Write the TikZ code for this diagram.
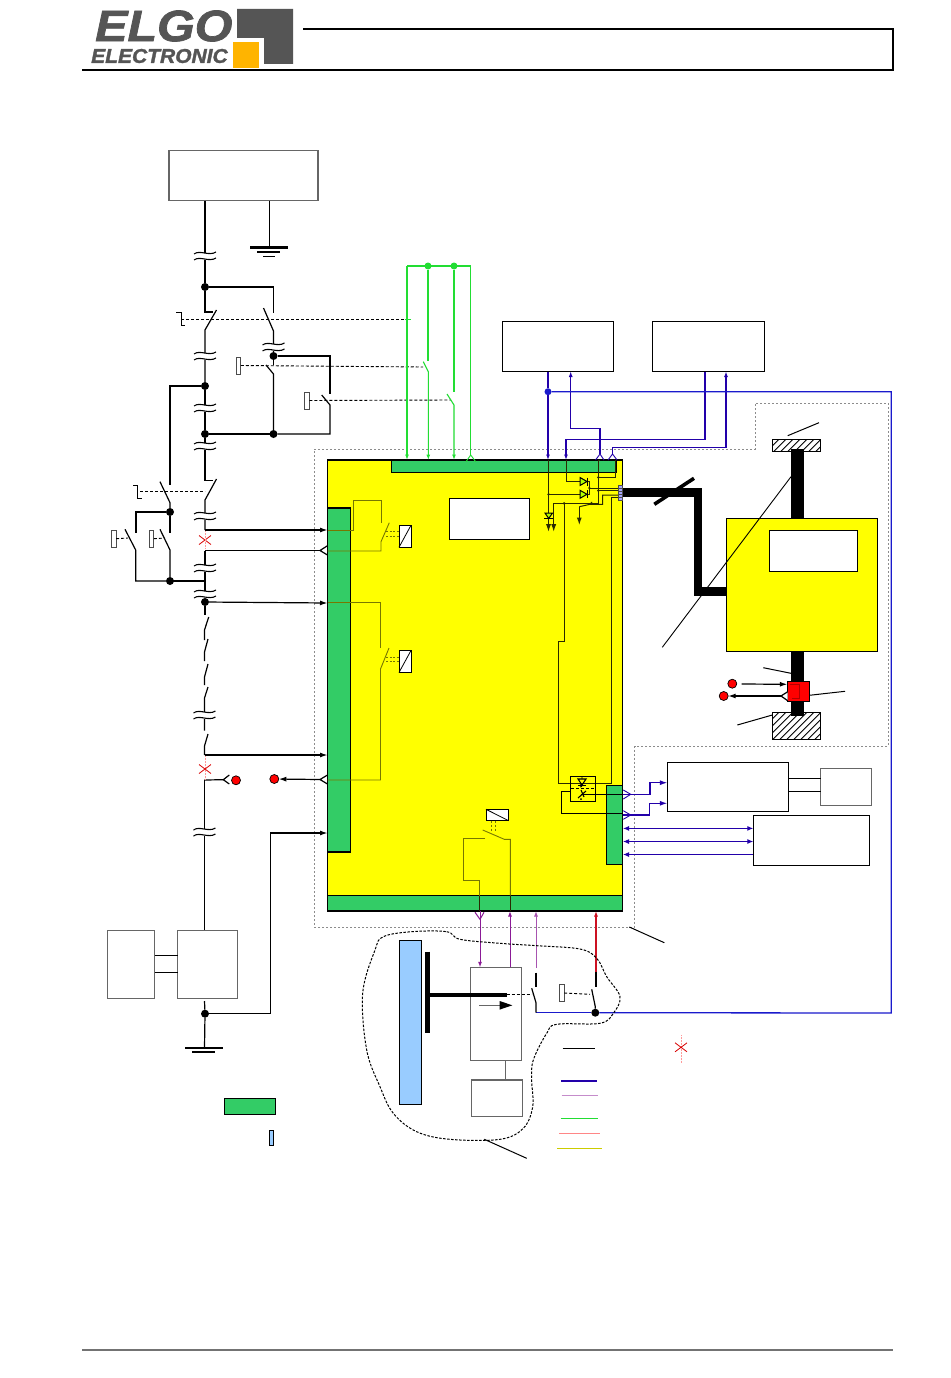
\documentclass[tikz,border=0pt]{standalone}
\usepackage{fontspec}
\setmainfont{Liberation Sans}
\newfontface\logofont{Liberation Sans Bold Italic}[FakeBold=1.6]
\usetikzlibrary{arrows.meta,calc}
\definecolor{logogray}{HTML}{555555}
\definecolor{logoor}{HTML}{FFB400}
\definecolor{grn}{HTML}{33CC66}
\definecolor{wgreen}{HTML}{22DD33}
\definecolor{wblue}{HTML}{2200AA}
\definecolor{bblue}{HTML}{1A1ACC}
\definecolor{wpurple}{HTML}{8A1A96}
\definecolor{wred}{HTML}{CC1122}
\definecolor{oliv}{HTML}{777700}
\definecolor{dkol}{HTML}{2A2A00}
\definecolor{barblue}{HTML}{99CCFF}
\definecolor{yel}{RGB}{255,255,0}
\tikzset{
  bx/.style={draw=black,line width=1.1pt,fill=white,inner sep=0pt,outer sep=0pt},
  gbx/.style={draw=black!60,line width=1.1pt,fill=white,inner sep=0pt,outer sep=0pt},
  gbar/.style={draw=black,line width=1.1pt,fill=grn,inner sep=0pt,outer sep=0pt},
  ybx/.style={draw=black,line width=1.1pt,fill=yel,inner sep=0pt,outer sep=0pt},
  jdot/.style={circle,fill=black,minimum size=8pt,inner sep=0pt,outer sep=0pt},
  rdot/.style={circle,fill=red,draw=black,line width=.7pt,minimum size=9pt,inner sep=0pt,outer sep=0pt},
  w/.style={draw=black,line width=1.2pt},
  tw/.style={draw=black,line width=1pt},
  ol/.style={draw=oliv,line width=.9pt},
  ik/.style={draw=dkol,line width=1pt},
  dsh/.style={draw=black,line width=.9pt,dash pattern=on 3pt off 2pt},
  gdot/.style={draw=black!45,line width=.8pt,dash pattern=on 2pt off 2pt},
  gw/.style={draw=wgreen,line width=1.1pt},
  bw/.style={draw=wblue,line width=1.1pt},
  pw/.style={draw=wpurple,line width=1pt},
  tp/.style={-{Latex[length=7.5pt,width=5pt]}},
  tps/.style={-{Latex[length=5.5pt,width=4pt]}},
  tt/.style={{Latex[length=6pt,width=5pt]}-{Latex[length=6pt,width=5pt]}},
  act/.style={draw=black!70,line width=.9pt,fill=white,inner sep=0pt,outer sep=0pt,minimum width=4.5pt,minimum height=17pt},
  brk/.pic={
    \fill[white] (-11,-3.5) rectangle (11,3.5);
    \draw[line width=1.1pt] (-11,-2) .. controls (-5,-6.5) and (4,0.5) .. (11,-4);
    \draw[line width=1.1pt] (-11,4) .. controls (-5,-0.5) and (4,6.5) .. (11,2);
  },
  redx/.pic={
    \draw[red!85!black,line width=.8pt] (-6,-4.5) -- (6,4.5) (-6,4.5) -- (6,-4.5);
  }
}
\begin{document}
\begin{tikzpicture}[x=1pt,y=-1pt]
\useasboundingbox[fill=white] (0,0) rectangle (950,1378);
% ---- header
\fill[logogray] (237,9) -- (293,9) -- (293,64) -- (264,64) -- (264,38) -- (237,38) -- cycle;
\fill[logoor] (233,42) rectangle (259,68);
\node[anchor=west,inner sep=0pt,xscale=1.1,text=logogray,font=\fontsize{44}{44}\logofont] (elgo) at (95,26) {ELGO};
\node[anchor=west,inner sep=0pt,xscale=1.05,text=logogray,font=\fontsize{20}{20}\logofont] (elec) at (91,56) {ELECTRONIC};
\draw[line width=1.1pt] (82,70) -- (893,70) -- (893,29) -- (303,29);
\draw[line width=1.4pt,black!55] (82,1350) -- (893,1350);
% ---- dotted outline
\draw[gdot] (314,449) -- (755,449) -- (755,403) -- (888,403) -- (888,746) -- (634.5,746) -- (634.5,927) -- (314,927) -- cycle;
% ---- main unit
\node[ybx,minimum width=295pt,minimum height=451pt,anchor=north west] (unit) at (327.5,460) {};
\node[gbar,minimum width=225pt,minimum height=12.5pt,anchor=north west] (gtop) at (391.5,460) {};
\node[gbar,minimum width=23pt,minimum height=344pt,anchor=north west] (gleft) at (327.5,508) {};
\node[gbar,minimum width=295pt,minimum height=15.5pt,anchor=north west] (gbot) at (327.5,895.5) {};
\node[gbar,minimum width=16pt,minimum height=79pt,anchor=north west] (gright) at (606.5,785.5) {};
\node[bx,minimum width=80.5pt,minimum height=41pt,anchor=north west] (disp) at (449.3,498.3) {};
% ---- supply and boxes
\node[gbx,minimum width=149pt,minimum height=50pt,anchor=north west] (psu) at (169,150.5) {};
\node[bx,minimum width=111pt,minimum height=50pt,anchor=north west] (b1) at (502.3,321.5) {};
\node[bx,minimum width=112pt,minimum height=50pt,anchor=north west] (b2) at (652.3,321.5) {};
\node[bx,minimum width=121pt,minimum height=49pt,anchor=north west] (bc) at (667.3,762.3) {};
\node[gbx,minimum width=51pt,minimum height=37pt,anchor=north west] (bd) at (820.7,768.3) {};
\node[bx,minimum width=116pt,minimum height=50pt,anchor=north west] (be) at (753.3,815.3) {};
\node[gbx,minimum width=47.5pt,minimum height=68.5pt,anchor=north west] (ba) at (107.3,930.3) {};
\node[gbx,minimum width=59.5pt,minimum height=68.5pt,anchor=north west] (bb) at (177.7,930.3) {};
\node[gbx,minimum width=51.5pt,minimum height=93.5pt,anchor=north west] (bf) at (470.3,967.3) {};
\node[gbx,minimum width=51pt,minimum height=36.7pt,anchor=north west] (bg) at (471.7,1080) {};
% ---- junction dots
\node[jdot] (d1) at (205,287) {};
\node[jdot] (d2) at (205,386) {};
\node[jdot] (d3) at (205,434) {};
\node[jdot] (d4) at (273.5,356) {};
\node[jdot] (d5) at (273.5,434) {};
\node[jdot] (d6) at (170,512) {};
\node[jdot] (d7) at (170,581) {};
\node[jdot] (d8) at (205,602) {};
\node[jdot] (d9) at (205,1013.7) {};
\node[jdot] (d10) at (595.3,1012.7) {};
% ---- ground top
\coordinate (g1) at (269.5,247.5);
\draw[w] (269.5,200.5) -- (g1);
\draw[line width=2.2pt] (250,247.5) -- (288,247.5);
\draw[line width=1.6pt] (257,252) -- (280,252);
\draw[line width=1.6pt] (263,256.5) -- (275,256.5);
% ---- main chain
\draw[w] (psu.south -| d1) -- (d1);
\draw[w] (d1) -- (205,312) -- (213,312);
\draw[w] (216.5,310) -- (205,330) -- (d2);
\draw[w] (d2) -- (d3);
\draw[w] (d3) -- (205,480.7) -- (213,480.7);
\draw[w] (216.5,479) -- (205,500) -- (205,530);
\draw[w] (205,550.5) -- (d8);
\draw[w] (170,581) -- (205,581);
\draw[w] (d8) -- (205,615);
\draw[w] (208.7,617) -- (204.5,630) -- (204.5,640);
\draw[w] (208,639) -- (204.5,652) -- (204.5,661);
\draw[w] (208,664) -- (204.5,677) -- (204.5,685);
\draw[w] (208,687) -- (204.5,698) -- (204.5,730.7);
\draw[w] (208,734) -- (204.5,746) -- (204.5,755);
\draw[w] (204.5,780) -- (204.5,930.3);
\draw[w] (204.5,1001) -- (d9);
\draw[w] (d9) -- (204.5,1048);
\draw[line width=2.2pt] (185,1048) -- (222.5,1048);
\draw[line width=2pt] (192,1052) -- (215,1052);
% ---- second branch
\draw[w] (d1) -| (273.5,312.5);
\draw[w] (263.5,308) -- (273.5,331) -- (d4);
\draw[w] (d4) -- (273.5,364.5);
\draw[w] (266,365) -- (273.5,374) -- (d5);
\draw[w] (d4) -| (330,394);
\draw[w] (321.7,395) -- (330,405) -- (330,434) -- (d5);
\draw[w] (d5) -- (d3);
\node[act] (a1) at (238.5,365.5) {};
\node[act] (a2) at (307,400.5) {};
\draw[dsh] (a1.east) -- (423,367);
\draw[dsh] (a2.east) -- (451,400);
% ---- actuator 1
\draw[tw] (176,312) -- (181,312) -- (181,325) -- (185,325);
\coordinate (k1) at (408,319.3);
\draw[dsh] (181,319.3) -- (k1);
% ---- left branch
\draw[w] (d2) -| (170,485);
\draw[w] (160,481.7) -- (170,502.7) -- (d6);
\draw[w] (d6) -- (170,533);
\draw[w] (d6) -| (136,533);
\draw[w] (125,529.3) -- (135.7,550) -- (135.7,581) -- (d7);
\draw[w] (160,529.3) -- (170,550) -- (d7);
\node[act] (a3) at (113.8,538.7) {};
\node[act] (a4) at (151.6,538.7) {};
\draw[dsh] (a3.east) -- (128,538);
\draw[dsh] (a4.east) -- (165,538);
\draw[tw] (133.3,485.7) -- (137.7,485.7) -- (137.7,498.7) -- (142,498.7);
\draw[dsh] (140,491.7) -- (205,491.7);
% ---- signals to left bar
\draw[w,tp] (205,530) -- (gleft.west |- 0,530);
\coordinate (c1) at (320,550.5);
\draw[w] (205,550.5) -- (c1);
\draw[w] (327.5,545.7) -- (c1) -- (327.5,555);
\draw[w,tp] (d8) -- (gleft.west |- 0,603);
\draw[w,tp] (204.5,755) -- (gleft.west |- 0,755);
\coordinate (c2) at (320,779.5);
\node[rdot] (r1) at (236,780.3) {};
\node[rdot] (r2) at (274.3,779) {};
\draw[w,tp] (c2) -- (r2);
\draw[w] (327.5,775) -- (c2) -- (327.5,784);
\coordinate (c3) at (223.3,779.7);
\draw[w] (204.5,780) -- (c3);
\draw[w] (229.3,775) -- (c3) -- (229.3,784);
\draw[w,tp] (d9) -| (270.7,833) -- (gleft.west |- 0,833);
\path (205,540) pic {redx};
\draw[red!40,line width=.5pt,densely dotted] (205,531) -- (205,549) (205,756) -- (205,779);
\path (205,769) pic {redx};
% ---- relays inside
\draw[ol] (327.5,530) -- (353,530) -- (353,500.5) -- (381,500.5) -- (381,523);
\draw[ol] (389.3,522.7) -- (381,541.7) -- (381,551) -- (327.5,551);
\draw[ol] (327.5,602.5) -- (380.5,602.5) -- (380.5,648);
\draw[ol] (389,648) -- (380.5,669) -- (380.5,780) -- (327.5,780);
\foreach \yy/\nm in {536.3/c4,661.5/c5}{
  \node[draw=black,line width=.8pt,fill=white,minimum width=12pt,minimum height=22pt,inner sep=0pt,outer sep=0pt] (\nm) at (405,\yy) {};
  \draw[line width=.8pt] (\nm.south west) -- (\nm.north east);
  \draw[oliv,line width=.7pt,dash pattern=on 2pt off 1.5pt] (386,\yy-4.5) -- (399,\yy-4.5) (386,\yy) -- (399,\yy);
}
% ---- relay bottom
\node[draw=black,line width=.8pt,fill=white,minimum width=22.7pt,minimum height=11.4pt,inner sep=0pt,outer sep=0pt,anchor=north west] (c6) at (486,809.3) {};
\draw[line width=.8pt] (c6.north west) -- (c6.south east);
\draw[oliv,line width=.8pt,dash pattern=on 2.5pt off 1.5pt] (491.3,820.7) -- (491.3,832.7) (495,820.7) -- (495,832.7);
\draw[ol] (482.7,830) -- (504.3,839.3) -- (510.3,839.3) -- (510.3,895.5);
\draw[ol] (485,838.7) -- (463.7,838.7) -- (463.7,880) -- (479.3,880) -- (479.3,895.5);
\draw[draw=dkol,line width=.7pt] (479.8,895.5) -- (479.8,911) (510.3,895.5) -- (510.3,911);
% ---- green wires
\node[circle,fill=wgreen,minimum size=7pt,inner sep=0pt,outer sep=0pt] (gd1) at (428,266) {};
\node[circle,fill=wgreen,minimum size=7pt,inner sep=0pt,outer sep=0pt] (gd2) at (454,266) {};
\draw[gw] (470.7,455) -- (470.7,266) -- (407,266);
\draw[gw,tps] (407,266) -- (gtop.north -| 407,0);
\draw[gw] (gd1) -- (428,361);
\draw[gw,tps] (423.3,361.7) -- (428.3,371.7) -- (gtop.north -| 428.3,0);
\draw[gw] (gd2) -- (454,392);
\draw[gw,tps] (447,394) -- (454,405) -- (gtop.north -| 454,0);
\draw[gw,line width=.9pt] (466,461.7) -- (470.7,455) -- (475.7,461.7);
\draw[gw,line width=.7pt] (404.5,319.3) -- (410.5,319.3);
% ---- blue wires
\node[circle,fill=bblue,minimum size=7pt,inner sep=0pt,outer sep=0pt] (bd1) at (548,391.7) {};
\draw[bw] (b1.south -| bd1) -- (bd1);
\draw[bw,tps] (bd1) -- (gtop.north -| bd1);
\coordinate (c7) at (600,454);
\coordinate (c8) at (612.5,454);
\draw[bw,tps] (c7) -- (600,428.5) -- (570.7,428.5) -- (b1.south -| 570.7,0);
\draw[bw,tps] (b2.south -| 705,0) -- (705,439.3) -- (566,439.3) -- (gtop.north -| 566,0);
\draw[bw,tps] (c8) -- (612.5,447.7) -- (726,447.7) -- (b2.south -| 726,0);
\draw[bw,line width=.9pt] (595.5,460) -- (c7) -- (604,460);
\draw[bw,line width=.9pt] (608,460) -- (c8) -- (617,460);
% ---- cable power / bus
\draw[draw=bblue,line width=1.3pt] (bd1) -- (891.3,391.7) -- (891.3,1013) -- (d10);
\draw[draw=bblue,line width=1.3pt] (d10) -- (536,1012.7);
% ---- thick cable
\draw[line width=8.5pt] (622,492.5) -- (698,492.5) -- (698,591.5) -- (727,591.5);
\draw[line width=3.6pt] (654.3,504.3) -- (694,478.3);
% ---- drive
\node[ybx,minimum width=151pt,minimum height=133pt,anchor=north west] (enc) at (726.7,518.3) {};
\node[bx,minimum width=88.4pt,minimum height=41pt,anchor=north west] (win) at (769.3,530.3) {};
\node[draw=black,line width=.8pt,fill=white,minimum width=48.4pt,minimum height=12pt,inner sep=0pt,outer sep=0pt,anchor=north west] (h1) at (772.3,439.3) {};
\node[draw=black,line width=.8pt,fill=white,minimum width=48.4pt,minimum height=27pt,inner sep=0pt,outer sep=0pt,anchor=north west] (h2) at (772.3,712.3) {};
\begin{scope}
  \clip (h1.north west) rectangle (h1.south east);
  \foreach \xx in {760,767,...,830}{\draw[line width=.9pt] (\xx,451.3) -- ++(12,-12);}
\end{scope}
\begin{scope}
  \clip (h2.north west) rectangle (h2.south east);
  \foreach \xx in {745,752,...,830}{\draw[line width=.9pt] (\xx,739.3) -- ++(27,-27);}
\end{scope}
\draw[line width=.9pt] (h2.north west) rectangle (h2.south east) (h1.north west) rectangle (h1.south east);
\fill[black] (791,449.3) rectangle (804,518);
\fill[black] (791,651.5) rectangle (804,715.5);
\node[draw=black,line width=.8pt,fill=red,minimum width=22pt,minimum height=20.4pt,inner sep=0pt,outer sep=0pt,anchor=north west] (brake) at (787.3,681.3) {};
\draw[red!70!black,line width=.5pt] (790,684) -- (799,684) -- (799,698) -- (792,698);
\draw[tw] (787.7,435.7) -- (819,422.7);
\draw[line width=.9pt] (791,476.7) -- (662.3,647.3);
\draw[tw] (763.3,667.7) -- (791,673.3);
\draw[tw] (809.3,695.3) -- (845,691.3);
\draw[tw] (737.3,725) -- (772.3,715);
\node[rdot] (r3) at (732.3,683.7) {};
\node[rdot] (r4) at (723.7,696) {};
\draw[w,tp] (741.7,684) -- (brake.west |- 0,684.3);
\coordinate (c9) at (781,696);
\fill[white] (787.7,691.7) -- (c9) -- (787.7,700.7) -- cycle;
\draw[w] (787.7,691.7) -- (c9) -- (787.7,700.7);
\draw[w,tp] (c9) -- (r4);
% ---- inner wiring top right
\draw[ik] (gtop.north -| 548.5,0) -- (548.5,513);
\draw[ik] (548.5,494.3) -- (580,494.3);
\fill[dkol] (548.5,494.3) circle (1.3);
\draw[ik] (566,460) -- (566,481.5) -- (580,481.5);
\draw[ik] (587,481.5) -- (589.3,481.5) -- (589.3,494.3) -- (587,494.3);
\draw[ik] (589.3,488) -- (618.3,488);
\fill[dkol] (589.3,488) circle (1.3);
\draw[ik] (600,460) -- (598.3,460) -- (598.3,503.3) -- (553.7,503.3);
\draw[ik] (598.3,477.3) -- (615,477.3) -- (615,460);
\draw[ik] (598.3,490.7) -- (618.3,490.7);
\fill[dkol] (598.3,477.3) circle (1.3) (598.3,490.7) circle (1.3) (564,503.3) circle (1.3);
\draw[ik] (618.3,495) -- (602.7,495) -- (602.7,504.3) -- (590,504.3) -- (592,502) (590,504.3) -- (579.3,506.7);
\draw[ik,tp] (579.3,506.7) -- (579.3,525);
\draw[ik,tp] (553.7,503.3) -- (553.7,531.7);
\draw[ik,tp] (548.5,518.3) -- (548.5,531.7);
\draw[ik] (564,503.3) -- (564,641) -- (558.3,641) -- (558.3,783.3) -- (611.7,783.3) -- (611.7,497.3) -- (618.3,497.3);
% diodes
\foreach \yy/\nm in {481.5/dA,494.3/dB}{
  \coordinate (\nm) at (583.5,\yy);
  \draw[line width=1pt,fill=yel!70!green] (580,\yy-4) -- (587,\yy) -- (580,\yy+4) -- cycle;
  \draw[line width=1pt] (587,\yy-4) -- (587,\yy+4);
}
\coordinate (dC) at (548.5,516);
\draw[line width=1pt,fill=yel!70!green] (545,513) -- (552.5,513) -- (548.7,518.5) -- cycle;
\draw[line width=1pt] (544,518.5) -- (553,518.5);
% connector
\node[draw=black!70,line width=.6pt,fill=blue!35,minimum width=4pt,minimum height=15.7pt,inner sep=0pt,outer sep=0pt,anchor=north west] (conn) at (618.3,485) {};
\foreach \yy in {488,491,494,497}{\draw[black!70,line width=.4pt] (618.3,\yy) -- (622.3,\yy);}
% ---- optocoupler
\node[draw=black,line width=1pt,inner sep=0pt,outer sep=0pt,minimum width=25.4pt,minimum height=24.7pt,anchor=north west] (opto) at (570.3,776.3) {};
\draw[line width=1.1pt] (578,779) -- (586,779) -- (582,785) -- cycle;
\draw[line width=1.1pt] (578,785.5) -- (586,785.5);
\draw[line width=.9pt] (582,776.5) -- (582,779) (580,784) arc (-90:90:2 and 1.5);
\draw[dsh] (571,788.3) -- (595,788.3);
\draw[line width=1.1pt] (578,798) -- (586,791) (581,790) -- (584,797);
\draw[w] (561.3,813.3) -- (561.3,791.7) -- (570.3,791.7);
\draw[w] (580.7,794.3) -- (623.3,794.3);
\draw[w] (561.3,813.3) -- (623.3,813.3);
\fill (581,799) circle (1);
% ---- right chevrons and wires
\coordinate (c10) at (630.7,794.3);
\coordinate (c11) at (630.7,815);
\draw[bw,line width=.9pt] (623.3,790) -- (c10) -- (623.3,799);
\draw[bw,line width=.9pt] (623.3,810.7) -- (c11) -- (623.3,819.3);
\draw[bw,tp] (623.3,794.3) -- (650,794.3) -- (650,782.7) -- (bc.west |- 0,782.7);
\draw[bw,tp] (623.3,815) -- (649.3,815) -- (649.3,803.3) -- (bc.west |- 0,803.3);
\draw[bw,tt] (623,828.4) -- (be.west |- 0,828.4);
\draw[bw,tt] (623,841.5) -- (be.west |- 0,841.5);
\draw[bw,{Latex[length=6pt,width=5pt]}-] (623,854.5) -- (be.west |- 0,854.5);
\draw[tw] (bc.east |- 0,778.3) -- (bd.west |- 0,778.3);
\draw[tw] (bc.east |- 0,791.3) -- (bd.west |- 0,791.3);
\draw[tw] (ba.east |- 0,955.3) -- (bb.west |- 0,955.3);
\draw[tw] (ba.east |- 0,972.3) -- (bb.west |- 0,972.3);
% ---- bottom group
\node[draw=black,line width=1.1pt,fill=barblue,minimum width=22.4pt,minimum height=164pt,inner sep=0pt,outer sep=0pt,anchor=north west] (bar) at (399.3,940.3) {};
\draw[line width=5pt] (427.5,951.7) -- (427.5,1032.7);
\draw[line width=4pt] (430,995) -- (506.7,995);
\draw[black!60,line width=.9pt] (479.3,1005.3) -- (500,1005.3);
\fill (499.7,1001) -- (512.3,1005.3) -- (499.7,1009.6) -- cycle;
\draw[black!60,line width=1pt] (bf.south -| 505.3,0) -- (bg.north -| 505.3,0);
\coordinate (c12) at (480,919.3);
\draw[pw] (475,912.3) -- (c12) -- (484,912.3);
\draw[pw,tps] (480,911) -- (bf.north -| 480,0);
\draw[pw,tps] (bf.north -| 510,0) -- (gbot.south -| 510,0);
\draw[draw=wpurple!75,line width=1pt,tps] (536,968) -- (gbot.south -| 536,0);
\draw[draw=wred,line width=1.3pt,tps] (596,971.7) -- (gbot.south -| 596,0);
\draw[w] (536,972.7) -- (536,986.7);
\draw[w] (531.7,988.3) -- (536,1002.7) -- (536,1012.7);
\draw[w] (596,971.7) -- (596,986.7);
\draw[w] (591.7,989.3) -- (595.3,1006.7) -- (d10);
\node[draw=black!70,line width=.9pt,fill=white,minimum width=4.7pt,minimum height=17.4pt,inner sep=0pt,outer sep=0pt] (a5) at (561.7,993) {};
\draw[dsh] (506.7,994.3) -- (531.7,994.3);
\draw[dsh] (a5.east) -- (590,994.3);
\draw[line width=1pt,dash pattern=on 2.5pt off 1.5pt] plot[smooth cycle,tension=.6] coordinates {(411.7,931.7) (446.7,931.7) (460,939.3) (500,943.3) (536.7,945.7) (580,949) (596.7,958.3) (606.7,976.7) (620,996.7) (613.3,1013.3) (600,1023.3) (556.7,1024.3) (546.7,1033.3) (533.3,1060) (531.7,1080) (532.7,1106.7) (523.3,1128.3) (500,1139.3) (450,1139.3) (416.7,1131.7) (393.3,1113.3) (380,1086.7) (366.7,1050) (362.7,993.3) (375,950) (383.3,936.7)};
\draw[tw] (484.3,1139.3) -- (526.7,1158.3);
\draw[tw] (629.3,927) -- (664.3,942.7);
% ---- legend
\node[gbar,minimum width=51pt,minimum height=16pt,anchor=north west] (lg1) at (224.3,1098.3) {};
\node[draw=black,line width=.9pt,fill=barblue,minimum width=4pt,minimum height=15.4pt,inner sep=0pt,outer sep=0pt,anchor=north west] (lg2) at (269.3,1130.3) {};
\draw[line width=1.1pt] (562.7,1048.3) -- (595,1048.3);
\draw[draw=wblue,line width=1.1pt] (561,1081) -- (596.7,1081);
\draw[draw=wpurple!50,line width=.8pt] (561.7,1095) -- (598,1095);
\draw[draw=wgreen,line width=1.2pt] (560.7,1118.3) -- (598,1118.3);
\draw[draw=red!30!pink,line width=.6pt] (559,1133.3) -- (600,1133.3);
\draw[draw=yel!60!olive,line width=.5pt] (557,1148.7) -- (601.7,1148.7);
\draw[red!40,line width=.5pt,densely dotted] (681,1035) -- (681,1063);
\path (681,1047.3) pic {redx};
% ---- breaks
\foreach \yy in {256,356,408,446,516,568,594}{\path (205,\yy) pic {brk};}
\foreach \yy in {715,832}{\path (204.5,\yy) pic {brk};}
\path (273.5,347) pic {brk};
\end{tikzpicture}
\end{document}
